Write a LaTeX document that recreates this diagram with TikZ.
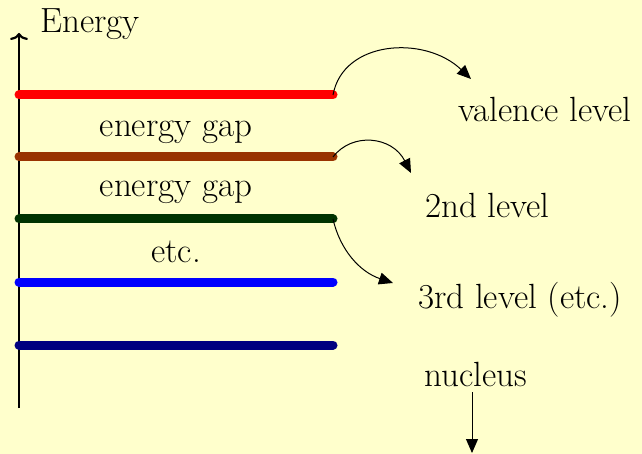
\documentclass[tikz,border=0pt]{standalone}
\usepackage{fontspec}
\usetikzlibrary{arrows.meta}
\definecolor{bg}{HTML}{FFFFCC}
\definecolor{lvred}{HTML}{FF0000}
\definecolor{lvbrown}{HTML}{993300}
\definecolor{lvgreen}{HTML}{003300}
\definecolor{lvblue}{HTML}{0000FF}
\definecolor{lvnavy}{HTML}{000080}
\begin{document}
\begin{tikzpicture}[x=1pt,y=-1pt,
  lbl/.style={anchor=base west,inner sep=0pt,font=\fontsize{35}{40}\selectfont},
  clbl/.style={anchor=base,inner sep=0pt,font=\fontsize{35}{40}\selectfont},
  level/.style={line width=9pt,line cap=round},
  curv/.style={line width=1pt,-{Triangle[length=14pt,width=12pt]}}]
\fill[bg] (0,0) rectangle (642,454);
\useasboundingbox (0,0) rectangle (642,454);
% axis
\coordinate (axb) at (19,408);
\coordinate (axt) at (19,33);
\draw[line width=2.2pt,-{To[length=7pt,width=18pt,line width=2.2pt]}] (axb) -- (axt);
\node[lbl] (energy) at (40,33) {Energy};
% levels
\coordinate (r1) at (19,95);  \coordinate (r2) at (333,95);
\coordinate (b1) at (19,157); \coordinate (b2) at (333,157);
\coordinate (g1) at (19,219); \coordinate (g2) at (333,219);
\coordinate (u1) at (19,282); \coordinate (u2) at (333,282);
\coordinate (n1) at (19,345); \coordinate (n2) at (333,345);
\draw[level,lvred] (r1) -- (r2);
\draw[level,lvbrown] (b1) -- (b2);
\draw[level,lvgreen] (g1) -- (g2);
\draw[level,lvblue] (u1) -- (u2);
\draw[level,lvnavy] (n1) -- (n2);
% gap labels
\node[clbl] (gap1) at (176,137) {energy gap};
\node[clbl] (gap2) at (176,197) {energy gap};
\node[clbl] (etc) at (176,262) {etc.};
% right labels
\node[lbl] (val) at (458,122) {valence level};
\node[lbl] (snd) at (425,218) {2nd level};
\node[lbl] (thd) at (418,308) {3rd level (etc.)};
\node[lbl] (nuc) at (424,386) {nucleus};
% arrows
\coordinate (ta) at (471,79);
\coordinate (tb) at (411,173);
\coordinate (tc) at (393,283);
\coordinate (nt) at (472,453);
\coordinate (ns) at (472,392);
\draw[curv] (r2) .. controls (343,40) and (425,35) .. (ta);
\draw[curv] (b2) .. controls (352,132) and (392,136) .. (tb);
\draw[curv] (g2) .. controls (340,250) and (360,272) .. (tc);
\draw[curv] (ns) -- (nt);
\end{tikzpicture}
\end{document}
